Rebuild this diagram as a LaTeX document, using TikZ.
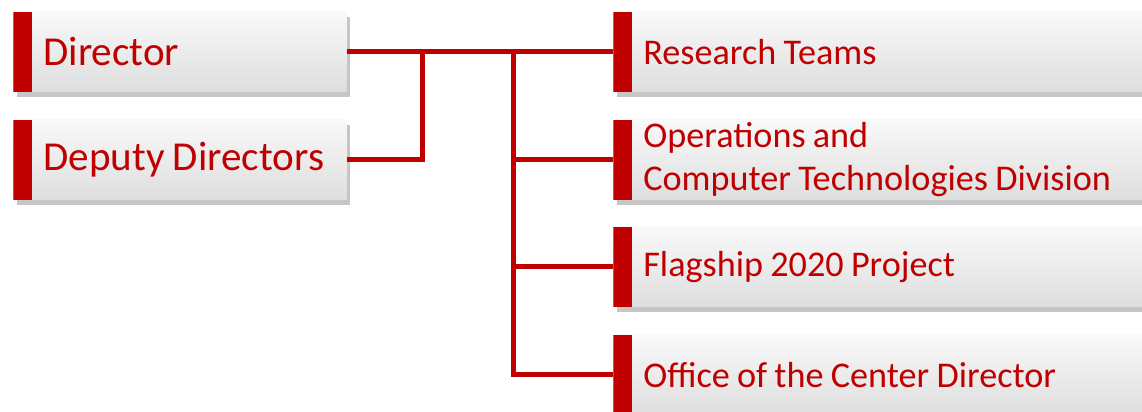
\documentclass[tikz,border=0pt]{standalone}
\usepackage{fontspec}
\setmainfont{Carlito}
\usetikzlibrary{shadows}
\definecolor{darkred}{HTML}{C00000}

\tikzset{
  box/.style={anchor=west,rectangle,minimum height=1.6cm,inner ysep=0pt,
    inner xsep=0pt,align=left,text=darkred,top color=gray!5,bottom color=gray!26,
    execute at begin node={\leftskip=0.6cm\spaceskip=0.2em plus 0.05em},
    drop shadow={shadow xshift=0.07cm,shadow yshift=-0.1cm,opacity=0.45,fill=gray},
    path picture={\fill[darkred] (path picture bounding box.north west)
      rectangle ([xshift=0.38cm]path picture bounding box.south west);}},
  leftbox/.style={box,text width=6.66cm,font=\fontsize{23.4}{28}\selectfont},
  rightbox/.style={box,text width=10.7cm,font=\fontsize{20.6}{24.5}\selectfont},
  link/.style={draw=darkred,line width=0.1cm}
}

\begin{document}
\begin{tikzpicture}
                \useasboundingbox (0,0) rectangle (22.84,8.24);
                \node[leftbox] (A) at (0.26,7.2) {Director};
                \node[leftbox] (B) at (0.26,5.04) {Deputy Directors};
                \node[rightbox] (C) at (12.26,7.2) {Research Teams};
                \node[rightbox] (D) at (12.26,5.04) {Operations and\\Computer Technologies Division};
                \node[rightbox] (E) at (12.26,2.9) {Flagship 2020 Project};
                \node[rightbox] (F) at (12.26,0.74) {Office of the Center Director};
                \coordinate (J) at (8.44,7.2);
                \coordinate (K) at (10.26,7.2);
                \draw [link] (A.east) -- (C.west);
                \draw [link] (B.east) -| (J);
                \draw [link] (K) |- (F.west);
                \draw [link] (K |- D.west) -- (D.west);
                \draw [link] (K |- E.west) -- (E.west);
            \end{tikzpicture}
\end{document}
